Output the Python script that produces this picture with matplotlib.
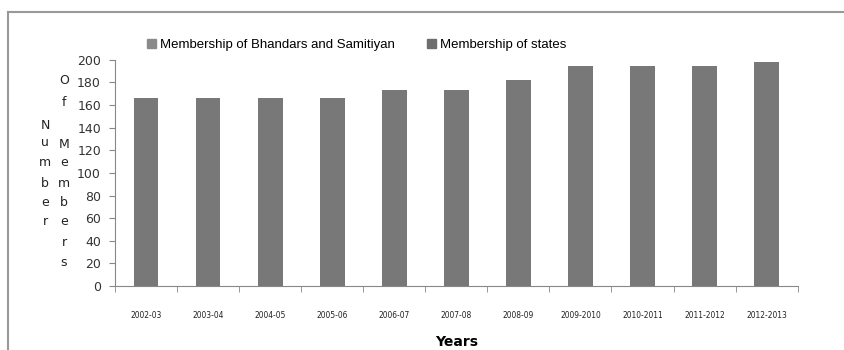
import matplotlib
matplotlib.use('Agg')
import matplotlib.pyplot as plt
import numpy as np
from matplotlib.patches import Patch

years = ['2002-03', '2003-04', '2004-05', '2005-06', '2006-07', '2007-08',
         '2008-09', '2009-2010', '2010-2011', '2011-2012', '2012-2013']
bhandars = [166, 166, 166, 166, 173, 173, 182, 195, 195, 195, 198]
series_names = ['Membership of Bhandars and Samitiyan', 'Membership of states']
yticks = [0, 20, 40, 60, 80, 100, 120, 140, 160, 180, 200]

bar_col = '#787878'
fig = plt.figure(figsize=(8.45, 3.5), dpi=100)
ax = fig.add_axes([0.136, 0.183, 0.808, 0.646])

x = np.arange(len(years))
ax.bar(x, bhandars, width=0.4, color=bar_col)

ax.set_xlim(-0.5, len(years) - 0.5)
ax.set_ylim(0, 200)
ax.set_yticks(yticks)
ax.set_yticklabels([str(t) for t in yticks], fontsize=9, color='#333333')
ax.set_xticks(x)
ax.set_xticklabels(years, fontsize=6, family='DejaVu Sans', fontstretch='condensed', color='#222222')
ax.set_xticks(np.arange(len(years) + 1) - 0.5, minor=True)
ax.tick_params(axis='x', which='major', length=0, pad=18)
ax.tick_params(axis='x', which='minor', length=4, color='#888888', direction='out')
ax.tick_params(axis='y', length=4, color='#888888', pad=6)
for s in ['top', 'right']:
    ax.spines[s].set_visible(False)
for s in ['left', 'bottom']:
    ax.spines[s].set_color('#888888')

ax.set_xlabel('Years', fontsize=10, fontweight='bold', labelpad=11)

# stacked y label letters, as in the original
col1 = list('Number')
col2 = list('Of') + list('Members')
ys1 = [125, 143, 163, 183, 203, 222]
ys2 = [81, 103, 144, 163, 183, 203, 222, 242, 262]
for ch, yy in zip(col1, ys1):
    fig.text(45 / 845, 1 - yy / 350, ch, fontsize=9, ha='center', va='center', color='#222222')
for ch, yy in zip(col2, ys2):
    fig.text(64 / 845, 1 - yy / 350, ch, fontsize=9, ha='center', va='center', color='#222222')

handles = [Patch(color='#8a8a8a'), Patch(color='#6e6e6e')]
fig.legend(handles, series_names, loc='center left', bbox_to_anchor=(147 / 845, 1 - 45 / 350),
           ncol=2, frameon=False, handlelength=0.7, handleheight=0.7,
           handletextpad=0.3, columnspacing=2.4, borderaxespad=0, borderpad=0,
           prop={'family': 'Liberation Sans', 'size': 9.5})

# outer frame lines
fig.add_artist(plt.Line2D([8 / 845, 8 / 845], [0, 1 - 12 / 350], color='#999999', lw=1.5))
fig.add_artist(plt.Line2D([8 / 845, 1], [1 - 12 / 350, 1 - 12 / 350], color='#999999', lw=1.5))

fig.savefig('out.png', dpi=100)
